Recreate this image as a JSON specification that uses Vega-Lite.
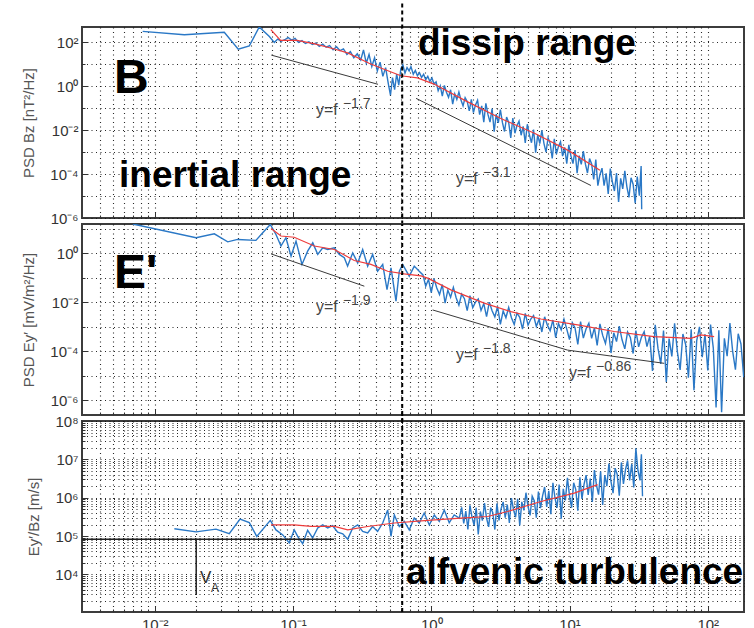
{
"$schema": "https://vega.github.io/schema/vega-lite/v6.json",
"autosize": {"type": "pad"},
"padding": {"left": 20, "top": 0, "right": 0, "bottom": 0},
"background": "white",
"spacing": 6,
"bounds": "flush",
"config": {
  "view": {"stroke": "#3c3c3c", "strokeWidth": 2},
  "font": "Liberation Sans",
  "axis": {"gridDash": [1, 3.5], "gridColor": "#111", "gridOpacity": 0.9, "gridWidth": 1.1, "domain": false,
    "labelFont": "Liberation Sans", "labelFontSize": 15, "labelColor": "#333", "labelOverlap": false, "labelFlush": false,
    "titleFont": "Liberation Sans", "titleFontSize": 15, "titleFontWeight": "normal", "titleColor": "#555",
    "tickColor": "#333", "labelPadding": 10}
},
"resolve": {"scale": {"x": "independent", "y": "independent"}},
"datasets": {
"b1": [{"logf":-2.087,"logv":2.5},{"logf":-1.786,"logv":2.35},{"logf":-1.497,"logv":2.46},{"logf":-1.396,"logv":1.69},{"logf":-1.316,"logv":1.84},{"logf":-1.244,"logv":2.7},{"logf":-1.171,"logv":2.27},{"logf":-1.135,"logv":2.0},
{"logf":-1.11,"logv":2.15},{"logf":-1.085,"logv":2.05},{"logf":-1.06,"logv":2.12},{"logf":-1.035,"logv":2.22},{"logf":-1.01,"logv":2.1},{"logf":-0.985,"logv":2.18},{"logf":-0.96,"logv":2.0},{"logf":-0.935,"logv":2.08},{"logf":-0.91,"logv":1.95},{"logf":-0.885,"logv":2.02},{"logf":-0.86,"logv":1.9},{"logf":-0.835,"logv":1.97},{"logf":-0.81,"logv":1.82},{"logf":-0.785,"logv":1.92},{"logf":-0.76,"logv":1.78},{"logf":-0.735,"logv":1.85},{"logf":-0.71,"logv":1.66},{"logf":-0.685,"logv":1.8},{"logf":-0.66,"logv":1.62},{"logf":-0.635,"logv":1.7},{"logf":-0.61,"logv":1.45},{"logf":-0.585,"logv":1.58},{"logf":-0.56,"logv":1.3},{"logf":-0.535,"logv":1.48},{"logf":-0.51,"logv":1.2},{"logf":-0.49,"logv":1.66},{"logf":-0.47,"logv":1.05},{"logf":-0.45,"logv":1.45},{"logf":-0.43,"logv":0.9},{"logf":-0.41,"logv":1.3},{"logf":-0.39,"logv":0.7},{"logf":-0.37,"logv":1.1},{"logf":-0.35,"logv":0.45},{"logf":-0.33,"logv":0.85},{"logf":-0.31,"logv":0.1},{"logf":-0.295,"logv":-0.4},{"logf":-0.28,"logv":0.4},{"logf":-0.265,"logv":-0.15},{"logf":-0.25,"logv":0.55},{"logf":-0.235,"logv":0.05},{"logf":-0.22,"logv":0.8},{"logf":-0.205,"logv":0.97},{"logf":-0.19,"logv":0.6},{"logf":-0.175,"logv":0.85},{"logf":-0.16,"logv":0.7},{"logf":-0.147,"logv":0.9},{"logf":-0.13,"logv":0.55},{"logf":-0.115,"logv":0.72},{"logf":-0.1,"logv":0.48},{"logf":-0.085,"logv":0.62},{"logf":-0.07,"logv":0.4},{"logf":-0.055,"logv":0.55},{"logf":-0.04,"logv":0.3},{"logf":-0.025,"logv":0.45},{"logf":-0.01,"logv":0.22},{"logf":0.005,"logv":0.38},{"logf":0.02,"logv":0.1},
{"logf":0.035,"logv":0.2},{"logf":0.05,"logv":-0.2},{"logf":0.065,"logv":0.02},{"logf":0.08,"logv":-0.45},{"logf":0.095,"logv":0.04},{"logf":0.11,"logv":-0.27},{"logf":0.125,"logv":-0.5},{"logf":0.14,"logv":-0.16},{"logf":0.155,"logv":-0.81},{"logf":0.17,"logv":-0.34},{"logf":0.185,"logv":-0.6},{"logf":0.2,"logv":-0.26},{"logf":0.215,"logv":-0.63},{"logf":0.23,"logv":-0.89},{"logf":0.245,"logv":-0.52},{"logf":0.26,"logv":-0.69},{"logf":0.275,"logv":-1.12},{"logf":0.29,"logv":-0.6},{"logf":0.305,"logv":-1.2},{"logf":0.32,"logv":-0.85},{"logf":0.335,"logv":-0.64},{"logf":0.35,"logv":-1.29},{"logf":0.365,"logv":-0.89},{"logf":0.38,"logv":-1.63},{"logf":0.395,"logv":-0.78},{"logf":0.41,"logv":-1.28},{"logf":0.425,"logv":-1.63},{"logf":0.44,"logv":-1.02},{"logf":0.455,"logv":-2.07},{"logf":0.47,"logv":-1.27},{"logf":0.485,"logv":-1.67},{"logf":0.5,"logv":-1.06},{"logf":0.515,"logv":-1.66},{"logf":0.53,"logv":-2.06},{"logf":0.545,"logv":-1.4},{"logf":0.56,"logv":-1.65},{"logf":0.575,"logv":-2.35},{"logf":0.59,"logv":-1.45},{"logf":0.605,"logv":-2.14},{"logf":0.62,"logv":-1.79},{"logf":0.635,"logv":-1.59},{"logf":0.65,"logv":-2.23},{"logf":0.665,"logv":-1.83},{"logf":0.68,"logv":-2.58},{"logf":0.695,"logv":-1.73},{"logf":0.71,"logv":-2.22},{"logf":0.725,"logv":-2.57},{"logf":0.74,"logv":-1.97},{"logf":0.755,"logv":-3.02},{"logf":0.77,"logv":-2.21},{"logf":0.785,"logv":-2.61},{"logf":0.8,"logv":-2.01},{"logf":0.815,"logv":-2.6},{"logf":0.83,"logv":-3.0},{"logf":0.845,"logv":-2.35},{"logf":0.86,"logv":-2.6},{"logf":0.875,"logv":-3.29},{"logf":0.89,"logv":-2.39},{"logf":0.905,"logv":-3.09},{"logf":0.92,"logv":-2.74},{"logf":0.935,"logv":-2.53},{"logf":0.95,"logv":-3.18},{"logf":0.965,"logv":-2.78},{"logf":0.98,"logv":-3.52},{"logf":0.995,"logv":-2.67},{"logf":1.01,"logv":-3.17},{"logf":1.025,"logv":-3.52},{"logf":1.04,"logv":-2.91},{"logf":1.055,"logv":-3.96},{"logf":1.07,"logv":-3.16},{"logf":1.085,"logv":-3.56},{"logf":1.1,"logv":-2.95},{"logf":1.115,"logv":-3.55},{"logf":1.13,"logv":-3.95},{"logf":1.145,"logv":-3.29},{"logf":1.16,"logv":-3.54},{"logf":1.175,"logv":-4.24},{"logf":1.19,"logv":-3.34},{"logf":1.205,"logv":-4.53},{"logf":1.22,"logv":-4.03},{"logf":1.235,"logv":-3.73},{"logf":1.25,"logv":-4.53},{"logf":1.265,"logv":-3.97},{"logf":1.28,"logv":-4.9},{"logf":1.295,"logv":-3.75},{"logf":1.31,"logv":-4.36},{"logf":1.325,"logv":-4.77},{"logf":1.34,"logv":-3.95},{"logf":1.355,"logv":-5.27},{"logf":1.37,"logv":-4.19},{"logf":1.385,"logv":-4.67},{"logf":1.4,"logv":-3.85},{"logf":1.415,"logv":-4.58},{"logf":1.43,"logv":-5.06},{"logf":1.445,"logv":-4.17},{"logf":1.46,"logv":-4.46},{"logf":1.475,"logv":-5.32},{"logf":1.49,"logv":-4.11},{"logf":1.505,"logv":-4.98},{"logf":1.518,"logv":-3.63},{"logf":1.522,"logv":-5.6}],
"r1": [{"logf":-1.16,"logv":2.58},{"logf":-1.09,"logv":2.09},{"logf":-0.97,"logv":2.09},{"logf":-0.85,"logv":1.94},{"logf":-0.7,"logv":1.7},{"logf":-0.6,"logv":1.51},{"logf":-0.45,"logv":1.05},{"logf":-0.36,"logv":0.82},{"logf":-0.22,"logv":0.48},{"logf":-0.1,"logv":0.38},{"logf":0.02,"logv":0.1},{"logf":0.26,"logv":-0.7},{"logf":0.5,"logv":-1.46},{"logf":0.75,"logv":-2.15},{"logf":0.99,"logv":-2.92},{"logf":1.22,"logv":-3.83}],
"f1": [{"seg":"a","logf":-1.157,"logv":1.42},{"seg":"a","logf":-0.385,"logv":0.09},{"seg":"b","logf":-0.11,"logv":-0.55},{"seg":"b","logf":1.155,"logv":-4.52}],
"b2": [{"logf":-2.159,"logv":1.19},{"logf":-1.701,"logv":0.63},{"logf":-1.569,"logv":0.79},{"logf":-1.472,"logv":0.46},{"logf":-1.4,"logv":0.56},{"logf":-1.268,"logv":0.52},{"logf":-1.219,"logv":0.83},{"logf":-1.164,"logv":1.17},{"logf":-1.123,"logv":0.76},{"logf":-1.087,"logv":0.29},{"logf":-1.051,"logv":0.63},{"logf":-1.014,"logv":-0.12},{"logf":-0.978,"logv":0.49},{"logf":-0.935,"logv":-0.46},{"logf":-0.894,"logv":0.08},{"logf":-0.857,"logv":0.42},{"logf":-0.821,"logv":-0.05},{"logf":-0.785,"logv":0.22},{"logf":-0.749,"logv":0.15},{"logf":-0.701,"logv":0.22},{"logf":-0.665,"logv":-0.05},{"logf":-0.629,"logv":-0.19},{"logf":-0.605,"logv":-0.53},{"logf":-0.568,"logv":0.01},{"logf":-0.532,"logv":-0.4},{"logf":-0.496,"logv":0.15},{"logf":-0.46,"logv":-0.53},{"logf":-0.424,"logv":-0.05},{"logf":-0.388,"logv":-0.74},{"logf":-0.351,"logv":-0.46},{"logf":-0.32,"logv":-1.49},{"logf":-0.291,"logv":-0.6},{"logf":-0.255,"logv":-1.96},{"logf":-0.231,"logv":-0.74},{"logf":-0.207,"logv":-0.46},{"logf":-0.159,"logv":-0.94},{"logf":-0.123,"logv":-0.53},{"logf":-0.087,"logv":-0.74},
{"logf":-0.06,"logv":-0.89},{"logf":-0.04,"logv":-1.35},{"logf":-0.02,"logv":-1.07},{"logf":0.0,"logv":-1.61},{"logf":0.02,"logv":-1.04},{"logf":0.04,"logv":-1.42},{"logf":0.06,"logv":-1.69},{"logf":0.08,"logv":-1.28},{"logf":0.1,"logv":-2.04},{"logf":0.12,"logv":-1.51},{"logf":0.14,"logv":-1.8},{"logf":0.16,"logv":-1.4},{"logf":0.18,"logv":-1.82},{"logf":0.2,"logv":-2.12},{"logf":0.22,"logv":-1.67},{"logf":0.24,"logv":-1.86},{"logf":0.26,"logv":-2.35},{"logf":0.28,"logv":-1.74},{"logf":0.3,"logv":-2.23},{"logf":0.32,"logv":-2.0},{"logf":0.34,"logv":-1.87},{"logf":0.36,"logv":-2.34},{"logf":0.38,"logv":-2.06},{"logf":0.4,"logv":-2.59},{"logf":0.42,"logv":-2.0},{"logf":0.44,"logv":-2.35},{"logf":0.46,"logv":-2.6},{"logf":0.48,"logv":-2.18},{"logf":0.5,"logv":-2.91},{"logf":0.52,"logv":-2.36},{"logf":0.54,"logv":-2.64},{"logf":0.56,"logv":-2.22},{"logf":0.58,"logv":-2.64},{"logf":0.6,"logv":-2.91},{"logf":0.62,"logv":-2.45},{"logf":0.64,"logv":-2.62},{"logf":0.66,"logv":-3.1},{"logf":0.68,"logv":-2.46},{"logf":0.7,"logv":-2.94},{"logf":0.72,"logv":-2.69},{"logf":0.74,"logv":-2.55},{"logf":0.76,"logv":-2.99},{"logf":0.78,"logv":-2.7},{"logf":0.8,"logv":-3.22},{"logf":0.82,"logv":-2.6},{"logf":0.84,"logv":-2.94},{"logf":0.86,"logv":-3.17},{"logf":0.88,"logv":-2.73},{"logf":0.9,"logv":-3.45},{"logf":0.92,"logv":-2.87},{"logf":0.94,"logv":-3.13},{"logf":0.96,"logv":-2.7},{"logf":0.98,"logv":-3.1},{"logf":1.0,"logv":-3.53},{"logf":1.02,"logv":-2.84},{"logf":1.04,"logv":-3.06},{"logf":1.06,"logv":-3.73},{"logf":1.08,"logv":-2.8},{"logf":1.1,"logv":-3.47},{"logf":1.12,"logv":-3.09},{"logf":1.14,"logv":-2.86},{"logf":1.16,"logv":-3.48},{"logf":1.18,"logv":-3.05},{"logf":1.2,"logv":-3.77},{"logf":1.22,"logv":-2.89},{"logf":1.24,"logv":-3.36},{"logf":1.26,"logv":-3.69},{"logf":1.28,"logv":-3.06},{"logf":1.3,"logv":-4.08},{"logf":1.32,"logv":-3.25},{"logf":1.34,"logv":-3.61},{"logf":1.36,"logv":-2.98},{"logf":1.38,"logv":-3.54},{"logf":1.4,"logv":-3.91},{"logf":1.42,"logv":-3.22},{"logf":1.44,"logv":-3.44},{"logf":1.46,"logv":-4.1},{"logf":1.48,"logv":-3.16},{"logf":1.5,"logv":-3.83},{"logf":1.52,"logv":-3.44},{"logf":1.54,"logv":-3.21},{"logf":1.56,"logv":-3.82},{"logf":1.58,"logv":-3.39},{"logf":1.6,"logv":-4.81},{"logf":1.62,"logv":-2.93},{"logf":1.64,"logv":-3.89},{"logf":1.66,"logv":-4.52},{"logf":1.68,"logv":-3.16},{"logf":1.7,"logv":-5.26},{"logf":1.72,"logv":-3.49},{"logf":1.74,"logv":-4.22},{"logf":1.76,"logv":-2.87},{"logf":1.78,"logv":-4.02},{"logf":1.8,"logv":-4.77},{"logf":1.82,"logv":-3.3},{"logf":1.84,"logv":-3.73},{"logf":1.86,"logv":-5.09},{"logf":1.88,"logv":-3.11},{"logf":1.9,"logv":-5.6},{"logf":1.92,"logv":-3.57},{"logf":1.94,"logv":-3.01},{"logf":1.96,"logv":-4.25},{"logf":1.98,"logv":-3.31},{"logf":2.0,"logv":-4.79},{"logf":2.02,"logv":-2.92},{"logf":2.04,"logv":-3.88},{"logf":2.06,"logv":-6.3},{"logf":2.08,"logv":-3.15},{"logf":2.1,"logv":-6.5},{"logf":2.12,"logv":-3.48},{"logf":2.14,"logv":-4.21},{"logf":2.16,"logv":-2.86},{"logf":2.18,"logv":-4.01},{"logf":2.2,"logv":-4.76},{"logf":2.22,"logv":-3.29},{"logf":2.24,"logv":-3.71},{"logf":2.26,"logv":-5.07}],
"r2": [{"logf":-1.159,"logv":1.01},{"logf":-1.087,"logv":0.7},{"logf":-0.991,"logv":0.65},{"logf":-0.846,"logv":0.29},{"logf":-0.701,"logv":0.15},{"logf":-0.557,"logv":-0.3},{"logf":-0.436,"logv":-0.46},{"logf":-0.315,"logv":-0.74},{"logf":-0.195,"logv":-0.85},{"logf":-0.074,"logv":-0.93},{"logf":-0.026,"logv":-1.02},{"logf":0.142,"logv":-1.5},{"logf":0.383,"logv":-2.04},{"logf":0.576,"logv":-2.39},{"logf":0.793,"logv":-2.69},{"logf":1.059,"logv":-2.93},{"logf":1.323,"logv":-3.2},{"logf":1.612,"logv":-3.41},{"logf":1.878,"logv":-3.48},{"logf":1.95,"logv":-3.34},{"logf":2.046,"logv":-3.41}],
"f2": [{"seg":"a","logf":-1.159,"logv":-0.03},{"seg":"a","logf":-0.484,"logv":-1.35},{"seg":"b","logf":0.01,"logv":-2.32},{"seg":"b","logf":0.986,"logv":-3.96},{"seg":"b","logf":1.685,"logv":-4.5}],
"b3": [{"logf":-1.858,"logv":5.19},{"logf":-1.701,"logv":5.11},{"logf":-1.557,"logv":5.18},{"logf":-1.461,"logv":5.06},{"logf":-1.383,"logv":5.44},{"logf":-1.316,"logv":5.35},{"logf":-1.262,"logv":4.99},{"logf":-1.164,"logv":5.41},{"logf":-1.123,"logv":5.16},{"logf":-1.074,"logv":5.03},{"logf":-1.027,"logv":4.82},{"logf":-0.991,"logv":5.16},{"logf":-0.966,"logv":4.99},{"logf":-0.93,"logv":4.8},{"logf":-0.894,"logv":5.15},{"logf":-0.858,"logv":4.95},{"logf":-0.821,"logv":5.21},{"logf":-0.785,"logv":5.29},{"logf":-0.749,"logv":5.21},{"logf":-0.713,"logv":5.27},{"logf":-0.677,"logv":5.1},{"logf":-0.64,"logv":5.06},{"logf":-0.604,"logv":4.92},{"logf":-0.568,"logv":5.21},{"logf":-0.532,"logv":5.29},{"logf":-0.496,"logv":5.12},{"logf":-0.46,"logv":5.08},{"logf":-0.424,"logv":5.25},{"logf":-0.388,"logv":5.12},{"logf":-0.351,"logv":5.34},{"logf":-0.315,"logv":5.68},{"logf":-0.291,"logv":4.99},{"logf":-0.267,"logv":5.55},{"logf":-0.231,"logv":5.25},{"logf":-0.195,"logv":5.38},{"logf":-0.159,"logv":5.16},{"logf":-0.123,"logv":5.47},{"logf":-0.087,"logv":5.34},{"logf":-0.051,"logv":5.6},{"logf":-0.014,"logv":5.29},{"logf":0.022,"logv":5.55},{"logf":0.058,"logv":5.38},{"logf":0.094,"logv":5.68},{"logf":0.13,"logv":5.35},{"logf":0.166,"logv":5.55},{"logf":0.203,"logv":5.47},
{"logf":0.22,"logv":5.75},{"logf":0.235,"logv":5.33},{"logf":0.25,"logv":5.65},{"logf":0.265,"logv":5.17},{"logf":0.28,"logv":5.8},{"logf":0.295,"logv":5.49},{"logf":0.31,"logv":5.28},{"logf":0.325,"logv":5.74},{"logf":0.34,"logv":5.04},{"logf":0.355,"logv":5.64},{"logf":0.37,"logv":5.4},{"logf":0.385,"logv":5.86},{"logf":0.4,"logv":5.47},{"logf":0.415,"logv":5.24},{"logf":0.43,"logv":5.74},{"logf":0.445,"logv":5.61},{"logf":0.46,"logv":5.17},{"logf":0.475,"logv":5.85},{"logf":0.49,"logv":5.41},{"logf":0.505,"logv":5.71},{"logf":0.52,"logv":5.89},{"logf":0.535,"logv":5.48},{"logf":0.55,"logv":5.82},{"logf":0.565,"logv":5.34},{"logf":0.58,"logv":5.99},{"logf":0.595,"logv":5.69},{"logf":0.61,"logv":5.49},{"logf":0.625,"logv":5.97},{"logf":0.64,"logv":5.28},{"logf":0.655,"logv":5.89},{"logf":0.67,"logv":5.67},{"logf":0.685,"logv":6.13},{"logf":0.7,"logv":5.77},{"logf":0.715,"logv":5.54},{"logf":0.73,"logv":6.04},{"logf":0.745,"logv":5.92},{"logf":0.76,"logv":5.48},{"logf":0.775,"logv":6.16},{"logf":0.79,"logv":5.73},{"logf":0.805,"logv":6.05},{"logf":0.82,"logv":6.28},{"logf":0.835,"logv":5.76},{"logf":0.85,"logv":6.18},{"logf":0.865,"logv":5.57},{"logf":0.88,"logv":6.39},{"logf":0.895,"logv":5.99},{"logf":0.91,"logv":5.74},{"logf":0.925,"logv":6.34},{"logf":0.94,"logv":5.45},{"logf":0.955,"logv":6.23},{"logf":0.97,"logv":5.93},{"logf":0.985,"logv":6.52},{"logf":1.0,"logv":6.05},{"logf":1.015,"logv":5.74},{"logf":1.03,"logv":6.39},{"logf":1.045,"logv":6.22},{"logf":1.06,"logv":5.66},{"logf":1.075,"logv":6.53},{"logf":1.09,"logv":5.97},{"logf":1.105,"logv":6.35},{"logf":1.12,"logv":6.59},{"logf":1.135,"logv":6.07},{"logf":1.15,"logv":6.5},{"logf":1.165,"logv":5.89},{"logf":1.18,"logv":6.72},{"logf":1.195,"logv":6.33},{"logf":1.21,"logv":6.08},{"logf":1.225,"logv":6.69},{"logf":1.24,"logv":5.81},{"logf":1.255,"logv":6.59},{"logf":1.27,"logv":6.3},{"logf":1.285,"logv":6.89},{"logf":1.3,"logv":6.42},{"logf":1.315,"logv":6.12},{"logf":1.33,"logv":6.77},{"logf":1.345,"logv":6.61},{"logf":1.36,"logv":6.05},{"logf":1.375,"logv":6.92},{"logf":1.39,"logv":6.36},{"logf":1.405,"logv":6.73},{"logf":1.42,"logv":6.97},{"logf":1.435,"logv":6.45},{"logf":1.45,"logv":6.88},{"logf":1.465,"logv":6.27},{"logf":1.48,"logv":7.29},{"logf":1.495,"logv":6.71},{"logf":1.51,"logv":6.45},{"logf":1.52,"logv":7.13},{"logf":1.528,"logv":6.04}],
"r3": [{"logf":-1.159,"logv":5.29},{"logf":-0.991,"logv":5.29},{"logf":-0.87,"logv":5.25},{"logf":-0.701,"logv":5.25},{"logf":-0.604,"logv":5.16},{"logf":-0.46,"logv":5.25},{"logf":-0.267,"logv":5.34},{"logf":-0.026,"logv":5.41},{"logf":0.215,"logv":5.47},{"logf":0.408,"logv":5.51},{"logf":0.552,"logv":5.64},{"logf":0.793,"logv":5.9},{"logf":1.034,"logv":6.12},{"logf":1.203,"logv":6.34}]
},
"vconcat": [
{
  "width": 662, "height": 191,
  "resolve": {"axis": {"x": "independent", "y": "independent"}},
  "layer": [
    {"data": {"name": "b1"}, "mark": {"type": "line", "color": "#2a78c6", "strokeWidth": 1.4, "clip": true},
     "encoding": {
       "x": {"field": "logf", "type": "quantitative", "scale": {"domain": [-2.526, 2.262], "nice": false, "zero": false},
             "axis": {"orient": "bottom", "values": [-2.398,-2.301,-2.222,-2.155,-2.097,-2.046,-2,-1.699,-1.523,-1.398,-1.301,-1.222,-1.155,-1.097,-1.046,-1,-0.699,-0.523,-0.398,-0.301,-0.222,-0.155,-0.097,-0.046,0,0.301,0.477,0.602,0.699,0.778,0.845,0.903,0.954,1,1.301,1.477,1.602,1.699,1.778,1.845,1.903,1.954,2], "labels": false, "title": null, "grid": true, "tickSize": -3}},
       "y": {"field": "logv", "type": "quantitative", "scale": {"domain": [-6, 2.7], "nice": false, "zero": false},
             "axis": {"orient": "left", "values": [-6,-5,-4,-3,-2,-1,0,1,2], "labels": false, "title": null, "grid": true, "tickSize": -3}}
     }},
    {"data": {"name": "r1"}, "mark": {"type": "line", "color": "#ee3b3b", "strokeWidth": 1.2, "clip": true},
     "encoding": {
       "x": {"field": "logf", "type": "quantitative", "axis": {"orient": "bottom", "values": [-2,-1,0,1,2], "labels": false, "title": null, "grid": false, "tickSize": -6}},
       "y": {"field": "logv", "type": "quantitative", "axis": {"orient": "left", "values": [-6,-4,-2,0,2], "grid": false, "tickSize": -6, "title": "PSD Bz [nT²/Hz]", "titlePadding": 13,
             "labelExpr": "datum.value==2?'10²':datum.value==0?'10⁰':datum.value==-2?'10⁻²':datum.value==-4?'10⁻⁴':'10⁻⁶'"}}}},
    {"data": {"name": "f1"}, "mark": {"type": "line", "color": "#3a3a3a", "strokeWidth": 1},
     "encoding": {"x": {"field": "logf", "type": "quantitative", "axis": null}, "y": {"field": "logv", "type": "quantitative", "axis": null}, "detail": {"field": "seg"}}},
    {"data": {"values": [{}]}, "mark": {"type": "rule", "color": "black", "strokeWidth": 2, "strokeDash": [4, 3]},
     "encoding": {"x": {"datum": -0.21, "axis": null}, "y": {"datum": -6.3, "axis": null}, "y2": {"datum": 3.798}}},
    {"data": {"values": [{"label": "dissip range", "logf": -0.096, "logv": 1.43}, {"label": "inertial range", "logf": -2.258, "logv": -4.58}]},
     "mark": {"type": "text", "align": "left", "baseline": "alphabetic", "font": "Liberation Sans", "fontWeight": "bold", "fontSize": 37, "color": "black"},
     "encoding": {"x": {"field": "logf", "type": "quantitative", "axis": null}, "y": {"field": "logv", "type": "quantitative", "axis": null}, "text": {"field": "label"}}},
    {"data": {"values": [{"label": "B", "logf": -2.294, "logv": -0.32}]},
     "mark": {"type": "text", "align": "left", "baseline": "alphabetic", "font": "Liberation Sans", "fontWeight": "bold", "fontSize": 48, "color": "black"},
     "encoding": {"x": {"field": "logf", "type": "quantitative", "axis": null}, "y": {"field": "logv", "type": "quantitative", "axis": null}, "text": {"field": "label"}}},
    {"data": {"values": [{"base": "y=f", "exp": "−1.7", "logf": -0.834, "logv": -1.33}, {"base": "y=f", "exp": "−3.1", "logf": 0.179, "logv": -4.44}]},
     "mark": {"type": "text", "align": "left", "baseline": "alphabetic", "fontSize": 16, "color": "#444"},
     "encoding": {"x": {"field": "logf", "type": "quantitative", "axis": null}, "y": {"field": "logv", "type": "quantitative", "axis": null}, "text": {"field": "base"}}},
    {"data": {"values": [{"base": "y=f", "exp": "−1.7", "logf": -0.834, "logv": -1.33}, {"base": "y=f", "exp": "−3.1", "logf": 0.179, "logv": -4.44}]},
     "mark": {"type": "text", "align": "left", "baseline": "alphabetic", "fontSize": 14, "color": "#444", "dx": 27, "dy": -7},
     "encoding": {"x": {"field": "logf", "type": "quantitative", "axis": null}, "y": {"field": "logv", "type": "quantitative", "axis": null}, "text": {"field": "exp"}}}
  ]
},
{
  "width": 662, "height": 191,
  "resolve": {"axis": {"x": "independent", "y": "independent"}},
  "layer": [
    {"data": {"name": "b2"}, "mark": {"type": "line", "color": "#2a78c6", "strokeWidth": 1.4, "clip": true},
     "encoding": {
       "x": {"field": "logf", "type": "quantitative", "scale": {"domain": [-2.526, 2.262], "nice": false, "zero": false},
             "axis": {"orient": "bottom", "values": [-2.398,-2.301,-2.222,-2.155,-2.097,-2.046,-2,-1.699,-1.523,-1.398,-1.301,-1.222,-1.155,-1.097,-1.046,-1,-0.699,-0.523,-0.398,-0.301,-0.222,-0.155,-0.097,-0.046,0,0.301,0.477,0.602,0.699,0.778,0.845,0.903,0.954,1,1.301,1.477,1.602,1.699,1.778,1.845,1.903,1.954,2], "labels": false, "title": null, "grid": true, "tickSize": -3}},
       "y": {"field": "logv", "type": "quantitative", "scale": {"domain": [-6.61, 1.19], "nice": false, "zero": false},
             "axis": {"orient": "left", "values": [-6,-5,-4,-3,-2,-1,0,1], "labels": false, "title": null, "grid": true, "tickSize": -3}}
     }},
    {"data": {"name": "r2"}, "mark": {"type": "line", "color": "#ee3b3b", "strokeWidth": 1.2, "clip": true},
     "encoding": {
       "x": {"field": "logf", "type": "quantitative", "axis": {"orient": "bottom", "values": [-2,-1,0,1,2], "labels": false, "title": null, "grid": false, "tickSize": -6}},
       "y": {"field": "logv", "type": "quantitative", "axis": {"orient": "left", "values": [-6,-4,-2,0], "grid": false, "tickSize": -6, "title": "PSD Ey′ [mV/m²/Hz]", "titlePadding": 13,
             "labelExpr": "datum.value==0?'10⁰':datum.value==-2?'10⁻²':datum.value==-4?'10⁻⁴':'10⁻⁶'"}}}},
    {"data": {"name": "f2"}, "mark": {"type": "line", "color": "#3a3a3a", "strokeWidth": 1},
     "encoding": {"x": {"field": "logf", "type": "quantitative", "axis": null}, "y": {"field": "logv", "type": "quantitative", "axis": null}, "detail": {"field": "seg"}}},
    {"data": {"values": [{}]}, "mark": {"type": "rule", "color": "black", "strokeWidth": 2, "strokeDash": [4, 3]},
     "encoding": {"x": {"datum": -0.21, "axis": null}, "y": {"datum": -6.9, "axis": null}, "y2": {"datum": 1.19}}},
    {"data": {"values": [{"label": "E'", "logf": -2.294, "logv": -1.43}]},
     "mark": {"type": "text", "align": "left", "baseline": "alphabetic", "font": "Liberation Sans", "fontWeight": "bold", "fontSize": 48, "color": "black"},
     "encoding": {"x": {"field": "logf", "type": "quantitative", "axis": null}, "y": {"field": "logv", "type": "quantitative", "axis": null}, "text": {"field": "label"}}},
    {"data": {"values": [{"base": "y=f", "exp": "−1.9", "logf": -0.834, "logv": -2.4}, {"base": "y=f", "exp": "−1.8", "logf": 0.179, "logv": -4.36}, {"base": "y=f", "exp": "−0.86", "logf": 0.996, "logv": -5.11}]},
     "mark": {"type": "text", "align": "left", "baseline": "alphabetic", "fontSize": 16, "color": "#444"},
     "encoding": {"x": {"field": "logf", "type": "quantitative", "axis": null}, "y": {"field": "logv", "type": "quantitative", "axis": null}, "text": {"field": "base"}}},
    {"data": {"values": [{"base": "y=f", "exp": "−1.9", "logf": -0.834, "logv": -2.4}, {"base": "y=f", "exp": "−1.8", "logf": 0.179, "logv": -4.36}, {"base": "y=f", "exp": "−0.86", "logf": 0.996, "logv": -5.11}]},
     "mark": {"type": "text", "align": "left", "baseline": "alphabetic", "fontSize": 14, "color": "#444", "dx": 27, "dy": -7},
     "encoding": {"x": {"field": "logf", "type": "quantitative", "axis": null}, "y": {"field": "logv", "type": "quantitative", "axis": null}, "text": {"field": "exp"}}}
  ]
},
{
  "width": 662, "height": 191,
  "resolve": {"axis": {"x": "independent", "y": "independent"}},
  "layer": [
    {"data": {"name": "b3"}, "mark": {"type": "line", "color": "#2a78c6", "strokeWidth": 1.4, "clip": true},
     "encoding": {
       "x": {"field": "logf", "type": "quantitative", "scale": {"domain": [-2.526, 2.262], "nice": false, "zero": false},
             "axis": {"orient": "bottom", "values": [-2.398,-2.301,-2.222,-2.155,-2.097,-2.046,-2,-1.699,-1.523,-1.398,-1.301,-1.222,-1.155,-1.097,-1.046,-1,-0.699,-0.523,-0.398,-0.301,-0.222,-0.155,-0.097,-0.046,0,0.301,0.477,0.602,0.699,0.778,0.845,0.903,0.954,1,1.301,1.477,1.602,1.699,1.778,1.845,1.903,1.954,2], "labels": false, "title": null, "grid": true, "tickSize": -3}},
       "y": {"field": "logv", "type": "quantitative", "scale": {"domain": [3.02, 8], "nice": false, "zero": false},
             "axis": {"orient": "left", "values": [3.301,3.477,3.602,3.699,3.778,3.845,3.903,3.954,4,4.301,4.477,4.602,4.699,4.778,4.845,4.903,4.954,5,5.301,5.477,5.602,5.699,5.778,5.845,5.903,5.954,6,6.301,6.477,6.602,6.699,6.778,6.845,6.903,6.954,7,7.301,7.477,7.602,7.699,7.778,7.845,7.903,7.954,8], "labels": false, "title": null, "grid": true, "tickSize": -3}}
     }},
    {"data": {"name": "r3"}, "mark": {"type": "line", "color": "#ee3b3b", "strokeWidth": 1.2, "clip": true},
     "encoding": {
       "x": {"field": "logf", "type": "quantitative", "axis": {"orient": "bottom", "values": [-2,-1,0,1,2], "title": null, "grid": false, "tickSize": -6, "labelPadding": 11,
             "labelExpr": "datum.value==-2?'10⁻²':datum.value==-1?'10⁻¹':datum.value==0?'10⁰':datum.value==1?'10¹':'10²'"}},
       "y": {"field": "logv", "type": "quantitative", "axis": {"orient": "left", "values": [4,5,6,7,8], "grid": false, "tickSize": -6, "title": "Ey′/Bz [m/s]", "titlePadding": 13,
             "labelExpr": "datum.value==4?'10⁴':datum.value==5?'10⁵':datum.value==6?'10⁶':datum.value==7?'10⁷':'10⁸'"}}}},
    {"data": {"values": [{"seg": "h", "logf": -2.526, "logv": 4.92}, {"seg": "h", "logf": -0.704, "logv": 4.92}, {"seg": "v", "logf": -1.7, "logv": 4.92}, {"seg": "v", "logf": -1.7, "logv": 3.46}]},
     "mark": {"type": "line", "color": "#222", "strokeWidth": 1.5},
     "encoding": {"x": {"field": "logf", "type": "quantitative", "axis": null}, "y": {"field": "logv", "type": "quantitative", "axis": null}, "detail": {"field": "seg"}}},
    {"data": {"values": [{}]}, "mark": {"type": "rule", "color": "black", "strokeWidth": 2, "strokeDash": [4, 3]},
     "encoding": {"x": {"datum": -0.21, "axis": null}, "y": {"datum": 3.02, "axis": null}, "y2": {"datum": 8.16}}},
    {"data": {"values": [{"label": "alfvenic turbulence", "logf": -0.183, "logv": 3.75}]},
     "mark": {"type": "text", "align": "left", "baseline": "alphabetic", "font": "Liberation Sans", "fontWeight": "bold", "fontSize": 37, "color": "black"},
     "encoding": {"x": {"field": "logf", "type": "quantitative", "axis": null}, "y": {"field": "logv", "type": "quantitative", "axis": null}, "text": {"field": "label"}}},
    {"data": {"values": [{"base": "V", "sub": "A", "logf": -1.672, "logv": 3.78}]},
     "mark": {"type": "text", "align": "left", "baseline": "alphabetic", "fontSize": 17, "color": "#333"},
     "encoding": {"x": {"field": "logf", "type": "quantitative", "axis": null}, "y": {"field": "logv", "type": "quantitative", "axis": null}, "text": {"field": "base"}}},
    {"data": {"values": [{"base": "V", "sub": "A", "logf": -1.672, "logv": 3.78}]},
     "mark": {"type": "text", "align": "left", "baseline": "alphabetic", "fontSize": 12, "color": "#333", "dx": 11, "dy": 9},
     "encoding": {"x": {"field": "logf", "type": "quantitative", "axis": null}, "y": {"field": "logv", "type": "quantitative", "axis": null}, "text": {"field": "sub"}}}
  ]
}
]
}
